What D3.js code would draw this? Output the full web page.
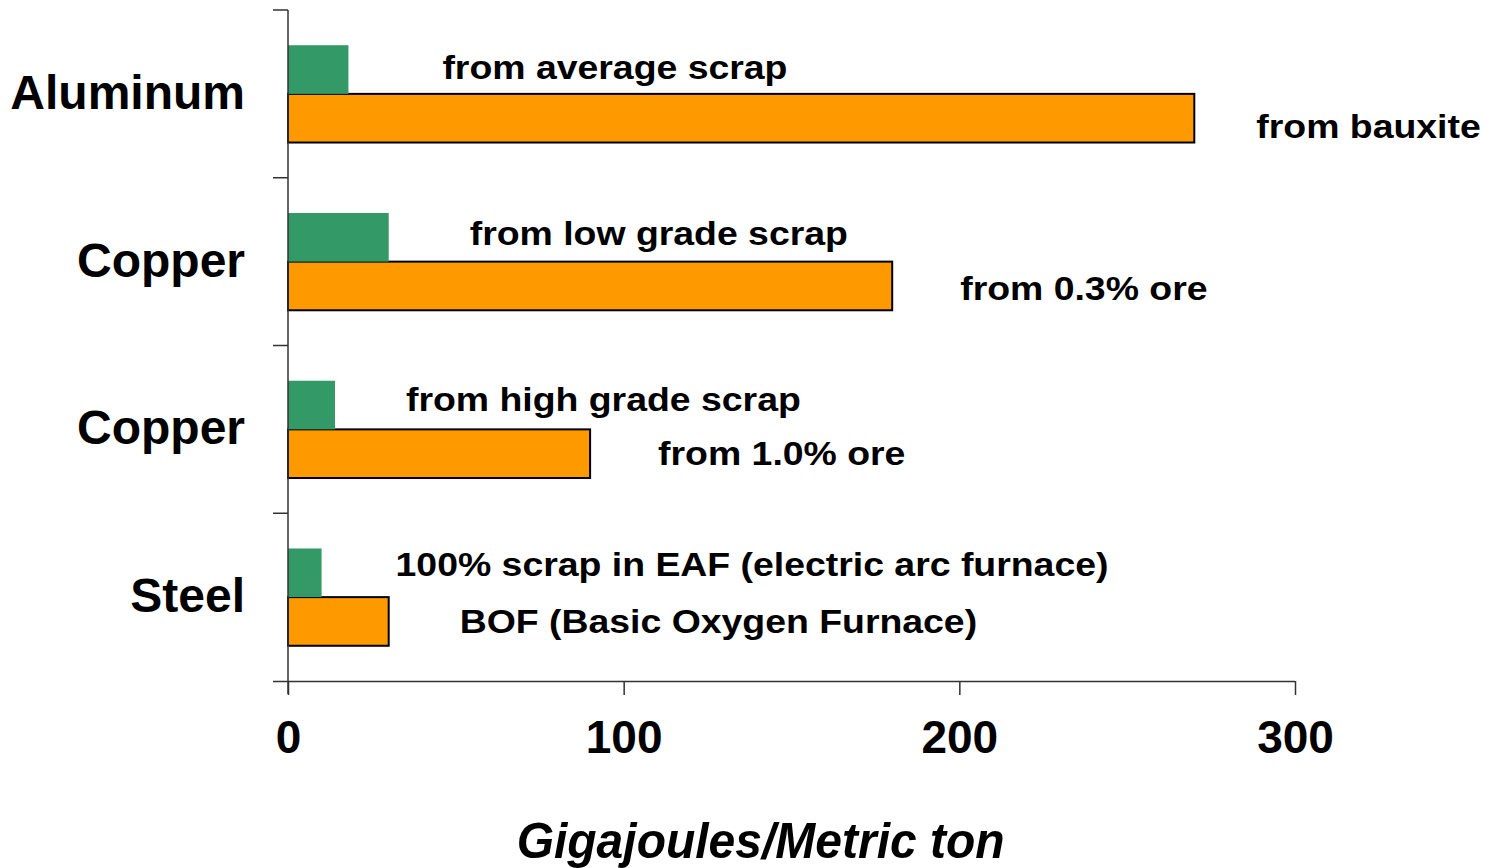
<!DOCTYPE html>
<html>
<head>
<meta charset="utf-8">
<script src="https://cdn.jsdelivr.net/npm/d3@7"></script>
<style>
  html, body { margin: 0; padding: 0; background: #fff; }
  svg { display: block; }
  text { font-family: "Liberation Sans", Arial, sans-serif; font-weight: bold; fill: #000; }
</style>
</head>
<body>
<svg id="chart" width="1496" height="868"></svg>
<script>
// Energy required to produce one metric ton of metal (GJ/t)
const categories = ["Aluminum", "Copper", "Copper", "Steel"];
const recycledValues = [18, 30, 14, 10];
const primaryValues = [270, 180, 90, 30];
const recycledLabels = ["from average scrap", "from low grade scrap", "from high grade scrap", "100% scrap in EAF (electric arc furnace)"];
const primaryLabels = ["from bauxite", "from 0.3% ore", "from 1.0% ore", "BOF (Basic Oxygen Furnace)"];
const tickValues = [0, 100, 200, 300];
const axisTitle = "Gigajoules/Metric ton";

// label placement relative to the end / top of each bar (px)
const recycledLabelGap = [94, 81, 71, 74];
const recycledLabelDy = [34, 32, 30, 28];
const primaryLabelGap = [62, 68, 68, 71];
const primaryLabelDy = [44, 38, 36, 36];

const svg = d3.select("#chart");
const margin = { left: 288, right: 201, top: 10, bottom: 187 };
const W = 1496, H = 868;
const plotW = W - margin.left - margin.right;
const plotH = H - margin.top - margin.bottom;

const x = d3.scaleLinear().domain([0, 300]).range([0, plotW]);
const rows = d3.range(categories.length);
const y = d3.scaleBand().domain(rows).range([0, plotH]).paddingInner(0).paddingOuter(0);

const g = svg.append("g").attr("transform", `translate(${margin.left},${margin.top})`);

const barH = y.bandwidth() * 0.29;
const groupTop = i => y(i) + y.bandwidth() / 2 - barH;

// primary production bars (orange, outlined)
g.selectAll("rect.primary").data(rows).join("rect")
  .attr("class", "primary")
  .attr("x", 0)
  .attr("y", i => groupTop(i) + barH)
  .attr("width", i => x(primaryValues[i]))
  .attr("height", barH)
  .attr("fill", "#FF9900")
  .attr("stroke", "#000")
  .attr("stroke-width", 2);

// recycled bars (green, no outline)
g.selectAll("rect.recycled").data(rows).join("rect")
  .attr("class", "recycled")
  .attr("x", 0)
  .attr("y", i => groupTop(i))
  .attr("width", i => x(recycledValues[i]))
  .attr("height", barH)
  .attr("fill", "#339966");

// x axis
const xAxis = d3.axisBottom(x).tickValues(tickValues).tickSize(14).tickSizeOuter(0).tickFormat(d3.format("d"));
const xg = g.append("g").attr("transform", `translate(0,${plotH})`).call(xAxis);
xg.select(".domain").attr("stroke", "#333").attr("stroke-width", 1.5)
  .attr("d", `M-15,0.5H${plotW}`);
xg.selectAll(".tick line").attr("stroke", "#333").attr("stroke-width", 1.5);
xg.selectAll(".tick text")
  .attr("dy", 0)
  .attr("y", 72)
  .style("font-size", "46px")
  .style("font-family", "'Liberation Sans', Arial, sans-serif")
  .style("font-weight", "bold")
  .attr("fill", "#000");

// y axis: category boundaries with outward ticks
const yBounds = d3.range(categories.length + 1).map(i => i * y.step());
g.append("line")
  .attr("x1", 0).attr("x2", 0).attr("y1", 0).attr("y2", plotH + 13)
  .attr("stroke", "#333").attr("stroke-width", 1.5);
g.selectAll("line.ytick").data(yBounds.slice(0, -1)).join("line")
  .attr("class", "ytick")
  .attr("x1", -15).attr("x2", 0)
  .attr("y1", d => d).attr("y2", d => d)
  .attr("stroke", "#333").attr("stroke-width", 1.5);

// category names
g.selectAll("text.cat").data(rows).join("text")
  .attr("class", "cat")
  .attr("x", -43)
  .attr("y", i => y(i) + y.bandwidth() / 2 + 15)
  .attr("text-anchor", "end")
  .style("font-size", "48px")
  .text(i => categories[i]);

// bar annotations
const annFont = 34;
g.selectAll("text.recLbl").data(rows).join("text")
  .attr("class", "recLbl")
  .attr("transform", i => `translate(${x(recycledValues[i]) + recycledLabelGap[i]},${groupTop(i) + recycledLabelDy[i]}) scale(1.1,1)`)
  .style("font-size", annFont + "px")
  .text(i => recycledLabels[i]);

g.selectAll("text.priLbl").data(rows).join("text")
  .attr("class", "priLbl")
  .attr("transform", i => `translate(${x(primaryValues[i]) + primaryLabelGap[i]},${groupTop(i) + barH + primaryLabelDy[i]}) scale(1.1,1)`)
  .style("font-size", annFont + "px")
  .text(i => primaryLabels[i]);

// axis title
svg.append("text")
  .attr("transform", `translate(${margin.left + x(140.8)},858) scale(0.96,1)`)
  .attr("text-anchor", "middle")
  .style("font-family", "'Liberation Sans Narrow', 'Arial Narrow', 'Liberation Sans', sans-serif")
  .style("font-style", "italic")
  .style("font-size", "50px")
  .text(axisTitle);
</script>
</body>
</html>
